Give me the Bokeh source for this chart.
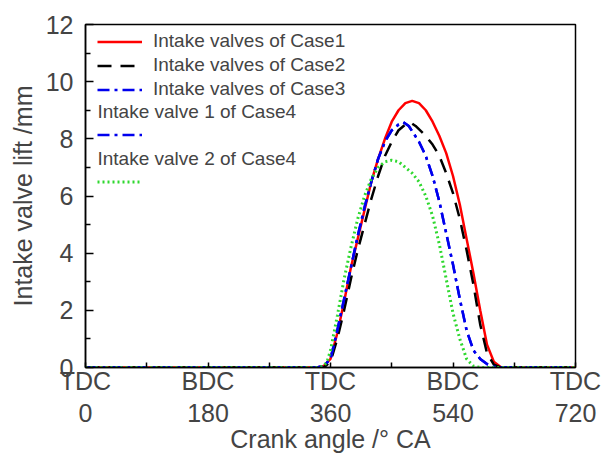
from bokeh.plotting import figure
from bokeh.models import (LinearAxis, FixedTicker, Legend, LegendItem, Label, Range1d)
from bokeh.embed import file_html
from bokeh.resources import INLINE

# ---- data ----
x_case1 = [0, 340, 350, 360, 370, 380, 390, 400, 410, 420, 430, 440, 450, 460, 470, 480,
           490, 500, 510, 520, 530, 540, 550, 560, 570, 580, 590, 600, 610, 620, 720]
y_case1 = [0, 0, 0.05, 0.3, 1.2, 2.3, 3.5, 4.5, 5.5, 6.5, 7.3, 8.0, 8.6, 9.0, 9.25, 9.33,
           9.25, 9.0, 8.6, 8.1, 7.5, 6.7, 5.7, 4.5, 3.3, 2.0, 0.8, 0.2, 0.02, 0, 0]

x_case2 = [0, 340, 350, 360, 370, 380, 390, 400, 410, 420, 430, 440, 450, 460, 470, 477,
           485, 500, 510, 520, 530, 540, 550, 560, 570, 580, 590, 600, 610, 720]
y_case2 = [0, 0, 0, 0.2, 1.0, 2.0, 3.1, 4.1, 5.0, 5.9, 6.7, 7.4, 7.9, 8.3, 8.5, 8.58,
           8.45, 8.1, 7.8, 7.4, 6.8, 6.1, 5.2, 4.1, 2.9, 1.5, 0.5, 0.1, 0, 0]

x_case3 = [0, 340, 350, 360, 370, 380, 390, 400, 410, 420, 430, 440, 450, 460, 467, 475,
           490, 500, 510, 520, 530, 540, 550, 560, 570, 580, 590, 600, 610, 720]
y_case3 = [0, 0, 0.05, 0.3, 1.3, 2.4, 3.5, 4.6, 5.6, 6.5, 7.3, 7.9, 8.3, 8.5, 8.58, 8.45,
           7.9, 7.4, 6.7, 5.8, 4.7, 3.6, 2.4, 1.3, 0.6, 0.3, 0.12, 0.02, 0, 0]

x_case4_v1 = x_case3
y_case4_v1 = y_case3

x_case4_v2 = [0, 340, 350, 355, 360, 370, 380, 390, 400, 410, 420, 430, 440, 450, 460, 470,
              480, 490, 500, 510, 520, 530, 540, 550, 560, 570, 580, 720]
y_case4_v2 = [0, 0, 0.05, 0.2, 0.6, 1.8, 3.1, 4.2, 5.2, 6.0, 6.6, 7.0, 7.2, 7.25, 7.2, 7.0,
              6.8, 6.5, 6.0, 5.3, 4.3, 3.1, 1.9, 1.0, 0.3, 0.05, 0, 0]

x_ticks = [0, 180, 360, 540, 720]
x_minor = [90, 270, 450, 630]
x_phase_labels = ["TDC", "BDC", "TDC", "BDC", "TDC"]
x_num_labels = ["0", "180", "360", "540", "720"]
y_ticks = [0, 2, 4, 6, 8, 10, 12]
y_minor = [1, 3, 5, 7, 9, 11]

labels = ["Intake valves of Case1", "Intake valves of Case2", "Intake valves of Case3",
          "Intake valve 1 of Case4", "Intake valve 2 of Case4"]

FONT = "Liberation Sans"
TICK_FS = "25px"
LEG_FS = "19px"
FRAME_H = 343

p = figure(width=606, height=455, output_backend="svg", toolbar_location=None,
           x_range=Range1d(0, 720), y_range=Range1d(0, 12),
           x_axis_location=None, y_axis_location=None,
           min_border_left=85, min_border_right=31, min_border_top=24, min_border_bottom=0)
p.grid.visible = False
p.outline_line_color = "black"
p.outline_line_width = 1.5
p.background_fill_color = "white"
p.border_fill_color = "white"

# y axis
yax = LinearAxis(ticker=FixedTicker(ticks=y_ticks, minor_ticks=y_minor),
                 axis_label="Intake valve lift /mm")
yax.axis_line_width = 1.5
yax.major_tick_in = 8
yax.major_tick_out = 0
yax.minor_tick_in = 5
yax.minor_tick_out = 0
yax.major_tick_line_width = 1.5
yax.minor_tick_line_width = 1.5
yax.major_label_text_font = FONT
yax.major_label_text_font_size = TICK_FS
yax.major_label_standoff = 12
yax.axis_label_text_font = FONT
yax.axis_label_text_font_size = TICK_FS
yax.axis_label_text_font_style = "normal"
yax.axis_label_standoff = 6
p.add_layout(yax, "left")

# x axis (phase labels, with ticks)
xax1 = LinearAxis(ticker=FixedTicker(ticks=x_ticks, minor_ticks=x_minor))
xax1.major_label_overrides = {t: s for t, s in zip(x_ticks, x_phase_labels)}
xax1.axis_line_width = 1.5
xax1.major_tick_in = 5
xax1.major_tick_out = 0
xax1.minor_tick_in = 5
xax1.minor_tick_out = 0
xax1.major_tick_line_width = 1.5
xax1.minor_tick_line_width = 1.5
xax1.major_label_text_font = FONT
xax1.major_label_text_font_size = TICK_FS
xax1.major_label_standoff = -1
p.add_layout(xax1, "below")

# x axis (numeric labels)
xax2 = LinearAxis(ticker=FixedTicker(ticks=x_ticks), axis_label="Crank angle /° CA")
xax2.major_label_overrides = {t: s for t, s in zip(x_ticks, x_num_labels)}
xax2.axis_line_color = None
xax2.major_tick_line_color = None
xax2.minor_tick_line_color = None
xax2.major_label_text_font = FONT
xax2.major_label_text_font_size = TICK_FS
xax2.major_label_standoff = 0
xax2.axis_label_text_font = FONT
xax2.axis_label_text_font_size = TICK_FS
xax2.axis_label_text_font_style = "normal"
xax2.axis_label_standoff = 0
p.add_layout(xax2, "below")

r1 = p.line(x_case1, y_case1, line_color="#ff0000", line_width=2.5)
r2 = p.line(x_case2, y_case2, line_color="black", line_width=2.5, line_dash="14 9")
r3 = p.line(x_case3, y_case3, line_color="#0000ee", line_width=2.5, line_dash="12 5 3 5")
r4 = p.line(x_case4_v1, y_case4_v1, line_color="#0000ee", line_width=2.5, line_dash="12 5 3 5")
r5 = p.line(x_case4_v2, y_case4_v2, line_color="#2ed82e", line_width=3, line_dash="2 3")

ROW_H = 19
def style_legend(lg, spacing=4):
    lg.border_line_color = None
    lg.background_fill_alpha = 0
    lg.label_text_font = FONT
    lg.label_text_font_size = LEG_FS
    lg.glyph_width = 45
    lg.glyph_height = ROW_H
    lg.label_height = ROW_H
    lg.spacing = spacing
    lg.padding = 0
    lg.margin = 0
    lg.label_standoff = 11

leg_main = Legend(items=[LegendItem(label=labels[0], renderers=[r1]),
                         LegendItem(label=labels[1], renderers=[r2]),
                         LegendItem(label=labels[2], renderers=[r3])],
                  location=(12, FRAME_H - 15 - (3 * ROW_H + 2 * 4) + 4))
style_legend(leg_main, spacing=2)
p.add_layout(leg_main, "center")

leg4 = Legend(items=[LegendItem(label=" ", renderers=[r4])],
              location=(12, FRAME_H - 111 - ROW_H // 2))
style_legend(leg4)
p.add_layout(leg4, "center")

leg5 = Legend(items=[LegendItem(label=" ", renderers=[r5])],
              location=(12, FRAME_H - 158 - ROW_H // 2))
style_legend(leg5)
p.add_layout(leg5, "center")

for txt, yy in [(labels[3], 87), (labels[4], 134)]:
    lab = Label(x=12, y=FRAME_H - yy, x_units="screen", y_units="screen", text=txt,
                text_font=FONT, text_font_size=LEG_FS, text_baseline="middle")
    p.add_layout(lab)

open("out.html", "w").write(file_html(p, INLINE))
